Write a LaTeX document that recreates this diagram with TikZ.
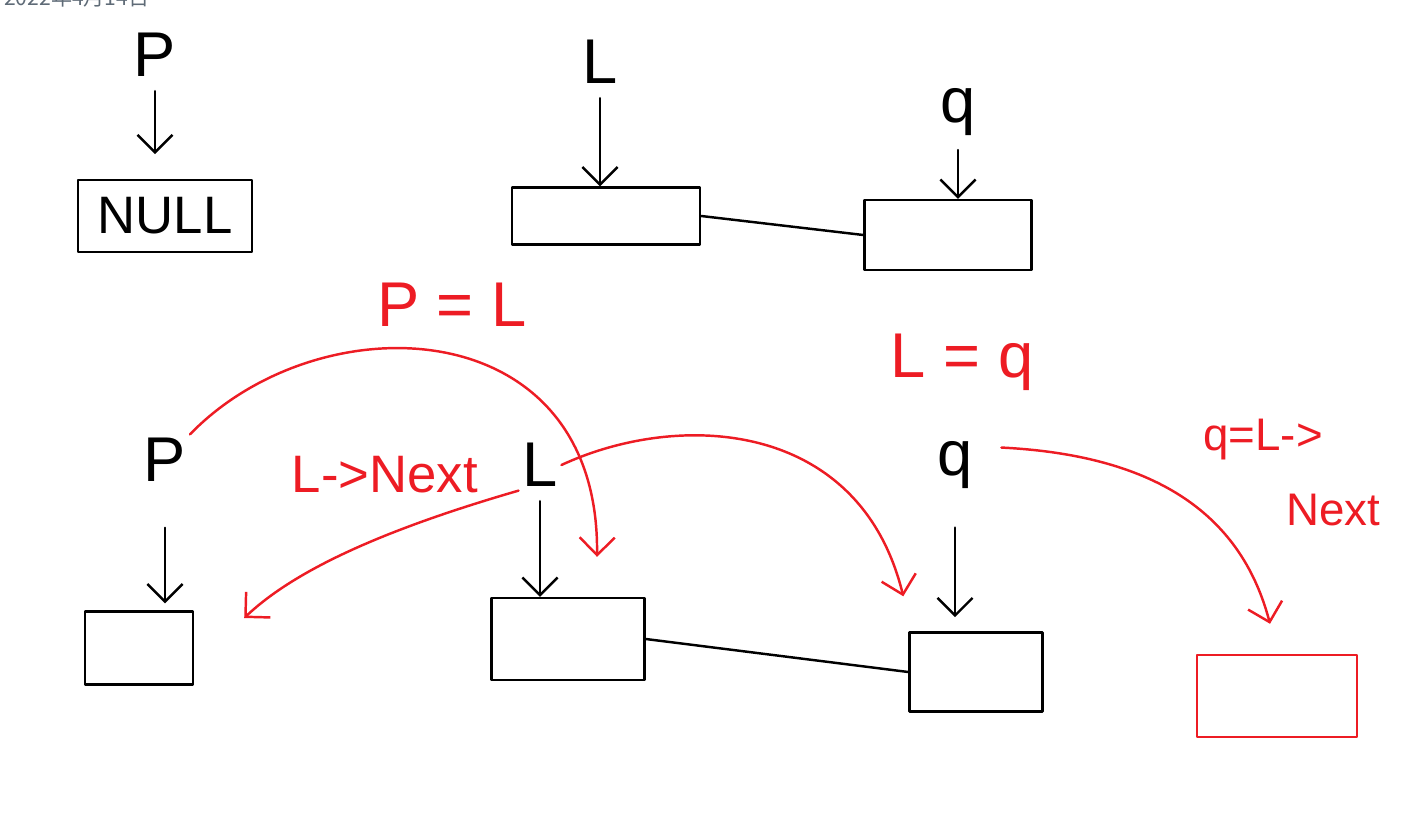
\documentclass[tikz,border=0pt]{standalone}
\usepackage{fontspec}
\setmainfont{Liberation Sans}
\newfontfamily\cjk{Noto Sans CJK SC}
\usetikzlibrary{arrows.meta, calc, positioning}
\definecolor{inkred}{HTML}{ED1C24}
\definecolor{stampgray}{HTML}{5F6B77}
\tikzset{
  >={Straight Barb[length=10pt, width=20pt]},
  every picture/.style={line cap=round, line join=round},
  % list node drawn as a plain box
  cell/.style={draw, line width=1.4pt, inner sep=0pt},
  ptr/.style={->, line width=1.4pt, shorten <=6pt},
  % pointer names
  var/.style={font=\fontsize{36}{40}\selectfont, inner sep=2pt},
}

\begin{document}
\begin{tikzpicture}[x=0.02cm, y=-0.02cm]
  \tikzset{redptr/.style={ptr, inkred, shorten <=0pt},
           redvar/.style={var, text=inkred}}
  \useasboundingbox (0,0) rectangle (1403,831);
  \node[stampgray, font=\cjk\fontsize{12}{14}\selectfont, anchor=west] (date) at (-2,-3) {2022年4月14日};
  % ---- before: p is empty, L and q on the list
  \node[var] (p1) at (155,55) {P};
  \node[cell, minimum width=3.48cm, minimum height=1.44cm, font=\fontsize{30}{32}\selectfont] (nullbox) at (165,216) {NULL};
  \draw[ptr, shorten >=14pt] (p1) -- (p1 |- nullbox.north);
  \node[var] (L1) at (600,62) {L};
  \node[cell, minimum width=3.76cm, minimum height=1.14cm] (L1box) at (606,216) {};
  \draw[ptr] (L1) -- (L1 |- L1box.north);
  \node[var] (q1) at (958,112) {q};
  \node[cell, minimum width=3.34cm, minimum height=1.4cm] (q1box) at (948,235) {};
  \draw[ptr] (q1) -- (q1 |- q1box.north);
  \draw[line width=1.4pt] (L1box.east) -- (q1box.west);
  % ---- after: pointers moved one step
  \node[var] (p2) at (165,460) {P};
  \node[cell, minimum width=2.16cm, minimum height=1.46cm] (p2box) at (139,648) {};
  \draw[ptr, shorten <=24pt, shorten >=4pt] (p2) -- (p2 |- p2box.north);
  \node[var] (L2) at (540,465) {L};
  \node[cell, minimum width=3.06cm, minimum height=1.64cm] (L2box) at (568,639) {};
  \draw[ptr] (L2) -- (L2 |- L2box.north);
  \node[var] (q2) at (955,465) {q};
  \node[cell, minimum width=2.66cm, minimum height=1.58cm] (q2box) at (976,672) {};
  \draw[ptr, shorten <=20pt, shorten >=8pt] (q2) -- (q2 |- q2box.north);
  \draw[line width=1.4pt] (L2box.east) -- (q2box.west);
  \node[cell, draw=inkred, minimum width=3.2cm, minimum height=1.64cm] (newbox) at (1277,696) {};
  % ---- red steps
  \node[redvar] (pL) at (452,305) {P = L};
  \draw[redptr] (p2.north east) .. controls (320,300) and (600,310) .. ([shift={(29,-40)}]L2box.north);
  \node[redvar, font=\fontsize{30}{34}\selectfont] (lnext) at (385,475) {L->Next};
  \draw[redptr] (L2.south west) .. controls (400,525) and (300,565) .. ([shift={(50,-30)}]p2box.east);
  \node[redvar] (Lq) at (962,362) {L = q};
  \draw[redptr] (L2.east) .. controls (680,410) and (860,420) .. ([shift={(-5,-35)}]q2box.north west);
  \node[redvar, font=\fontsize{26}{30}\selectfont] (qnext) at (1263,440) {q=L->};
  \node[redvar, font=\fontsize{26}{30}\selectfont] (qnext2) at (1333,510) {Next};
  \draw[redptr] ([shift={(25,10)}]q2.north east) .. controls (1150,455) and (1240,510) .. ([shift={(-7,-30)}]newbox.north);
\end{tikzpicture}
\end{document}
